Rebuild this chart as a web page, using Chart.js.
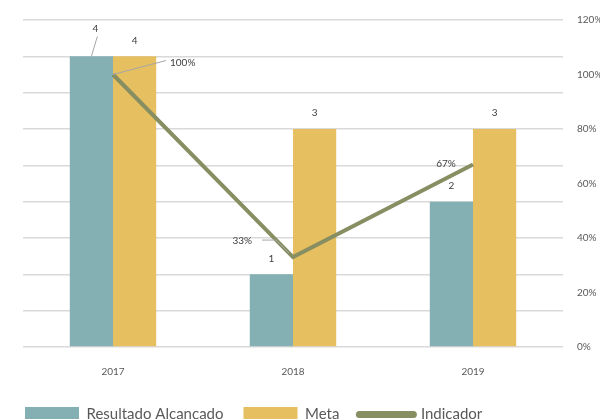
<!DOCTYPE html>
<html>
<head>
<meta charset="utf-8">
<script src="https://cdn.jsdelivr.net/npm/chart.js@4/dist/chart.umd.min.js"></script>
<style>
    html, body { margin: 0; padding: 0; background: #fff; overflow: hidden; }
    #wrap { position: relative; width: 604px; height: 432px; }
</style>
</head>
<body>
<div id="wrap"><canvas id="chart"></canvas></div>
<script>
const years = ['2017', '2018', '2019'];
const resultado = [4, 1, 2];
const meta = [4, 3, 3];
const indicador = [1.0, 0.33, 0.67];
const indicadorLabels = ['100%', '33%', '67%'];
const percentTicks = [0, 0.2, 0.4, 0.6, 0.8, 1.0, 1.2];

// label placement tweaks (dx, dy from default spot, optional leader line)
const barLabelShift = [
    [{ dx: 4, dy: -12, leader: true }, { dx: 0, dy: 0 }, { dx: 0, dy: 0 }],
    [{ dx: 0, dy: 0 }, { dx: 0, dy: 0 }, { dx: 0, dy: 0 }]
];
const lineLabelShift = [
    { dx: 57, dy: -12, align: 'left', leader: true },
    { dx: -41, dy: -16, align: 'right', leader: true },
    { dx: -27, dy: -1, align: 'center', leader: false }
];

const FONT = 'Lato, "Open Sans", sans-serif';

const labelPlugin = {
    id: 'valueLabels',
    afterDatasetsDraw(chart) {
        const ctx = chart.ctx;
        ctx.save();
        ctx.font = '10px ' + FONT;
        ctx.fillStyle = '#404040';
        ctx.strokeStyle = '#a6a6a6';
        ctx.lineWidth = 1;
        ctx.textBaseline = 'middle';

        [0, 1].forEach(di => {
            const meta = chart.getDatasetMeta(di);
            const data = chart.data.datasets[di].data;
            meta.data.forEach((bar, i) => {
                const s = barLabelShift[di][i];
                const x = bar.x + s.dx;
                const y = bar.y - 16 + s.dy;
                if (s.leader) {
                    ctx.beginPath();
                    ctx.moveTo(x + 2, y + 8);
                    ctx.lineTo(bar.x, bar.y);
                    ctx.stroke();
                }
                ctx.textAlign = 'center';
                ctx.fillText(String(data[i]), x, y);
            });
        });

        const lineMeta = chart.getDatasetMeta(2);
        lineMeta.data.forEach((pt, i) => {
            const s = lineLabelShift[i];
            const x = pt.x + s.dx;
            const y = pt.y + s.dy;
            if (s.leader) {
                ctx.beginPath();
                if (s.align === 'left') {
                    ctx.moveTo(pt.x, pt.y);
                    ctx.lineTo(x - 4, y - 2);
                } else {
                    ctx.moveTo(x + 10, y - 1);
                    ctx.lineTo(x + 24, y - 1);
                    ctx.lineTo(pt.x - 4, pt.y - 4);
                }
                ctx.stroke();
            }
            ctx.textAlign = s.align;
            ctx.fillText(indicadorLabels[i], x, y);
        });
        ctx.restore();
    }
};

new Chart(document.getElementById('chart'), {
    type: 'bar',
    data: {
        labels: years,
        datasets: [
            {
                label: 'Resultado Alcançado',
                data: resultado,
                backgroundColor: '#84b0b4',
                yAxisID: 'y',
                order: 1,
                categoryPercentage: 0.48,
                barPercentage: 1.0
            },
            {
                label: 'Meta',
                data: meta,
                backgroundColor: '#e5bf60',
                yAxisID: 'y',
                order: 1,
                categoryPercentage: 0.48,
                barPercentage: 1.0
            },
            {
                type: 'line',
                label: 'Indicador',
                data: indicador,
                borderColor: '#878e62',
                backgroundColor: '#878e62',
                borderWidth: 4,
                pointRadius: 0,
                tension: 0,
                yAxisID: 'y1',
                order: 0
            }
        ]
    },
    options: {
        responsive: true,
        maintainAspectRatio: false,
        animation: false,
        layout: { padding: { left: 5, top: 19, right: 4, bottom: 0 } },
        scales: {
            x: {
                grid: { display: false, drawTicks: false },
                border: { display: false },
                ticks: { color: '#595959', font: { family: FONT, size: 10 }, padding: 19 },
                afterFit: axis => { axis.height = 40; }
            },
            y: {
                min: 0,
                max: 4.5,
                ticks: { display: false, stepSize: 0.5 },
                grid: { color: '#d9d9d9', lineWidth: 1.5, drawTicks: false },
                border: { display: false },
                afterFit: axis => { axis.width = 18; }
            },
            y1: {
                position: 'right',
                min: 0,
                max: 1.2,
                afterBuildTicks: axis => { axis.ticks = percentTicks.map(v => ({ value: v })); },
                ticks: {
                    color: '#595959',
                    font: { family: FONT, size: 10 },
                    padding: 14,
                    callback: v => Math.round(v * 100) + '%'
                },
                grid: { drawOnChartArea: false, drawTicks: false },
                border: { display: false },
                afterFit: axis => { axis.width = 37; }
            }
        },
        plugins: {
            tooltip: { enabled: false },
            legend: {
                position: 'bottom',
                align: 'start',
                labels: {
                    color: '#595959',
                    font: { family: FONT, size: 15 },
                    usePointStyle: true,
                    pointStyleWidth: 54,
                    padding: 20,
                    generateLabels(chart) {
                        const items = Chart.defaults.plugins.legend.labels.generateLabels(chart);
                        items.forEach(it => {
                            if (it.datasetIndex === 2) {
                                it.pointStyle = 'line';
                                it.lineWidth = 7;
                                it.lineCap = 'round';
                                it.strokeStyle = '#878e62';
                            } else {
                                it.pointStyle = 'rect';
                                it.lineWidth = 0;
                            }
                        });
                        return items.sort((a, b) => a.datasetIndex - b.datasetIndex);
                    }
                }
            }
        }
    },
    plugins: [labelPlugin]
});
</script>
</body>
</html>
